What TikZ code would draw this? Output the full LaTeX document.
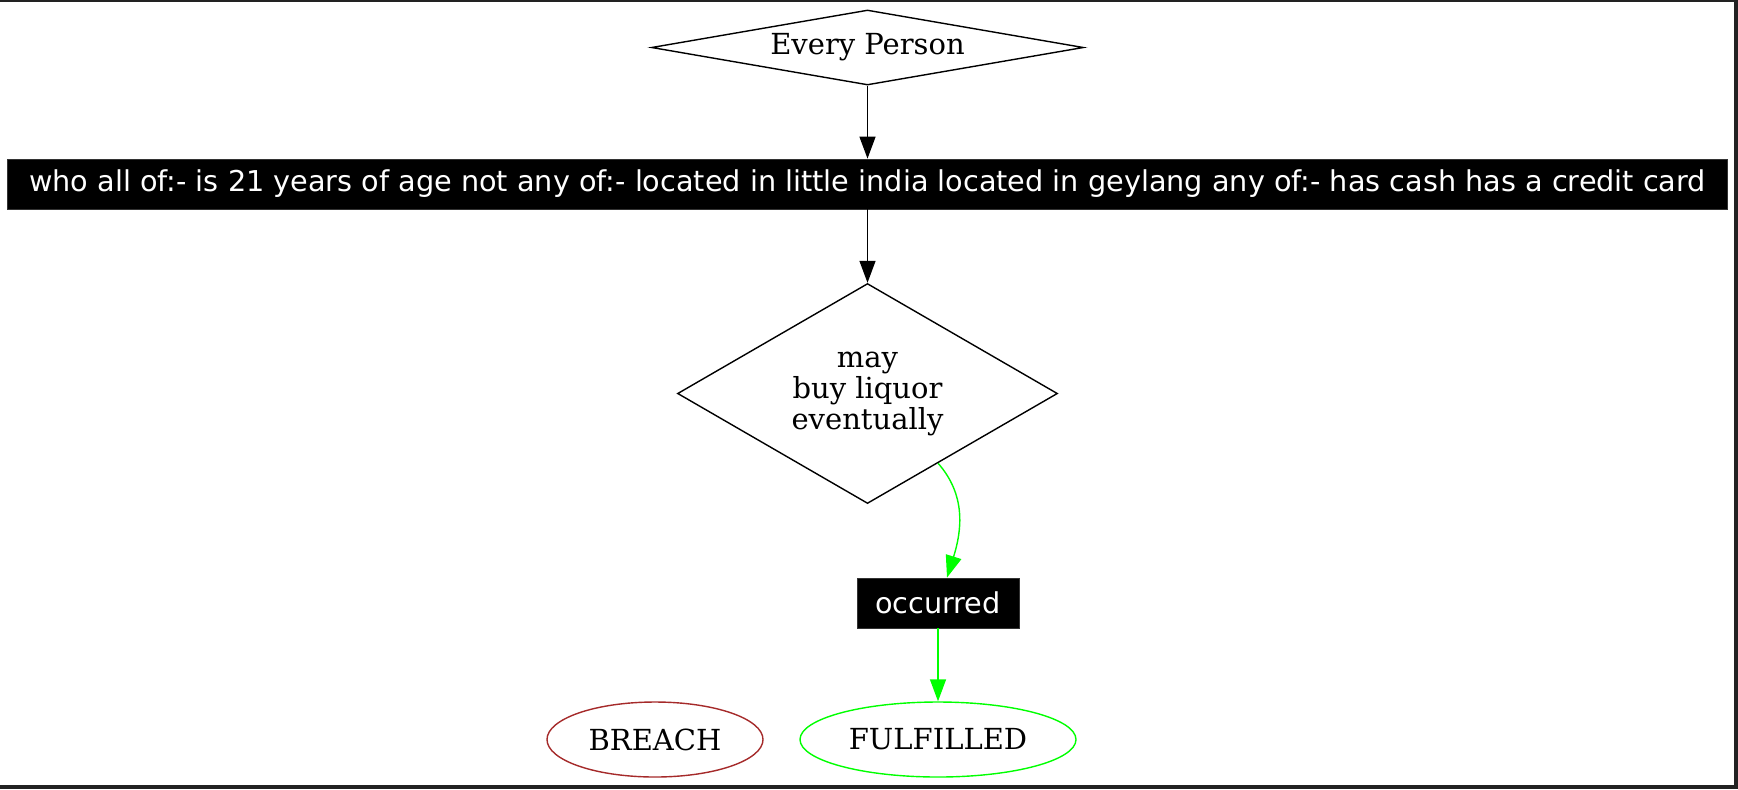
\documentclass[tikz,border=0pt]{standalone}
\usepackage{fontspec}
\setmainfont{DejaVu Serif}
\newfontfamily\boxfont{DejaVu Sans}
\usetikzlibrary{shapes.geometric,arrows.meta,calc}
\definecolor{brd}{HTML}{222222}
\definecolor{gvgreen}{HTML}{00FF00}
\definecolor{gvbrown}{HTML}{A52A2A}
\begin{document}
\begin{tikzpicture}[x=0.5pt,y=-0.5pt,
  diam/.style={diamond,draw=black,line width=0.7pt,inner sep=0pt,
    font=\fontsize{14.5pt}{15.5pt}\selectfont,align=center},
  blackbox/.style={rectangle,fill=black,draw=black!80,line width=0.4pt,text=white,inner sep=0pt,
    font=\boxfont\fontsize{14.35pt}{16pt}\selectfont},
  endstate/.style={ellipse,draw,line width=0.7pt,inner sep=0pt,minimum height=37.5pt,
    font=\fontsize{14.5pt}{15.5pt}\selectfont},
  conn/.style={-{Triangle[length=11pt,width=8pt]},line width=0.7pt},
]
\useasboundingbox (0,0) rectangle (1738,789);
% frame
\fill[brd] (0,0) rectangle (1738,2);
\fill[brd] (1734,0) rectangle (1738,789);
\fill[brd] (0,785) rectangle (1738,789);

\node[diam,minimum width=216pt,minimum height=37.5pt,aspect=5.76] (ep) at (867.5,47.5) {Every Person};
\node[blackbox,minimum width=860pt,minimum height=25pt] (who) at (867.5,184)
  {who all of:- is 21 years of age not any of:- located in little india located in geylang any of:- has cash has a credit card};
\node[diam,minimum width=190pt,minimum height=110pt,aspect=1.727] (may) at (867.5,393.5) {may\\buy liquor\\eventually};
\node[blackbox,minimum width=81pt,minimum height=25pt] (occ) at (938,603) {occurred};
\node[endstate,draw=gvbrown,minimum width=108pt] (br) at (655,739.5) {BREACH};
\node[endstate,draw=gvgreen,minimum width=138pt] (ful) at (938,739.5) {FULFILLED};

\coordinate (mayout) at ($(may.south)!0.37!(may.east)$);
\draw[conn,black] (ep.south) -- (who.north);
\draw[conn,black] (who.south) -- (may.north);
\draw[conn,gvgreen] (mayout) .. controls (966,495) and (962,530) .. (occ.north -| 947,0);
\draw[conn,gvgreen] (occ.south) -- (ful.north);
\end{tikzpicture}
\end{document}
